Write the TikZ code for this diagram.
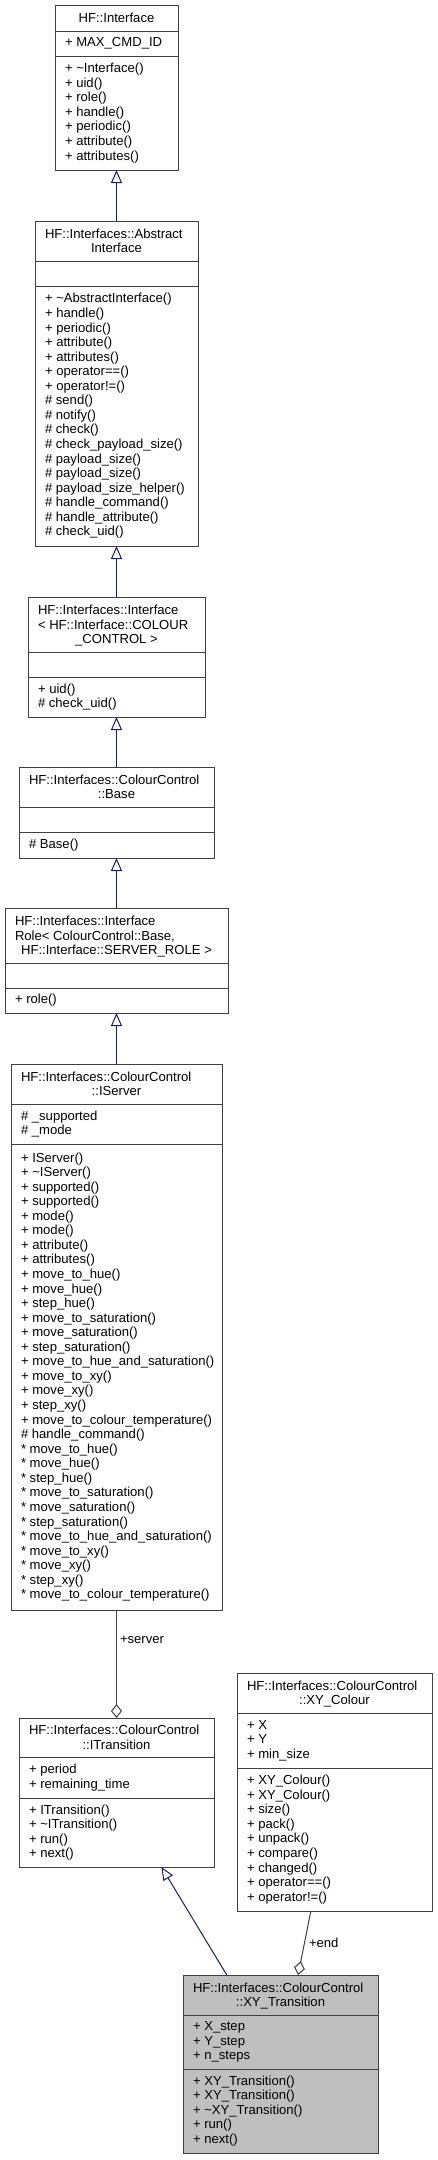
\documentclass[tikz,border=0pt]{standalone}
\usepackage{fontspec}
\setmainfont{Liberation Sans}
\usetikzlibrary{arrows.meta}
\definecolor{inhcol}{RGB}{25,25,112}
\definecolor{aggcol}{RGB}{64,64,64}
\definecolor{boxcol}{RGB}{64,64,64}
\definecolor{mainfill}{RGB}{191,191,191}
% #1 fill, #2 name, #3 x1, #4 x2, #5 top, #6 header bottom, #7 attribute bottom, #8 bottom
\newcommand\umlclass[8][white]{%
  \node[classbox, fill=#1, minimum width={(#4-#3)*1pt}, minimum height={(#8-#5)*1pt}] (#2) at ({(#3+#4)/2},{(#5+#8)/2}) {};
  \draw[sepline] (#3,#6) -- (#4,#6);
  \draw[sepline] (#3,#7) -- (#4,#7);
}
\begin{document}
\begin{tikzpicture}[x=1pt,y=-1pt,
  every node/.style={font=\fontsize{13.1}{14.56}\selectfont, inner sep=0pt, outer sep=0pt, text=black},
  classbox/.style={draw=boxcol, line width=1pt, rectangle},
  sepline/.style={draw=boxcol, line width=1pt},
  tleft/.style={anchor=base west},
  tcent/.style={anchor=base},
  members/.style={anchor=west, align=left},
  inherit/.style={draw=inhcol, line width=1pt, -{Triangle[open, length=13pt, width=11pt]}},
  aggr/.style={draw=aggcol, line width=1pt, -{Diamond[open, length=14pt, width=11pt]}},
  elabel/.style={anchor=west}
]
\useasboundingbox (0,0) rectangle (438,2160);

% ---------- B1 HF::Interface
\umlclass{b1}{55}{178}{5}{31}{56}{170}
\node[tcent] (b1t) at (116.5,22.6) {HF::Interface};
\node[members] (b1a) at (65,43.5) {+ MAX\_CMD\_ID};
\node[members] (b1m) at (65,113) {+ \textasciitilde Interface()\\+ uid()\\+ role()\\+ handle()\\+ periodic()\\+ attribute()\\+ attributes()};

% ---------- B2 AbstractInterface
\umlclass{b2}{35}{198}{221}{261}{286}{546}
\node[tleft] (b2t1) at (45,238.3) {HF::Interfaces::Abstract};
\node[tcent] (b2t2) at (116.5,252.9) {Interface};
\node[members] (b2m) at (45,416) {+ \textasciitilde AbstractInterface()\\+ handle()\\+ periodic()\\+ attribute()\\+ attributes()\\+ operator==()\\+ operator!=()\\\# send()\\\# notify()\\\# check()\\\# check\_payload\_size()\\\# payload\_size()\\\# payload\_size()\\\# payload\_size\_helper()\\\# handle\_command()\\\# handle\_attribute()\\\# check\_uid()};

% ---------- B3 Interface<COLOUR_CONTROL>
\umlclass{b3}{28}{205}{597}{652}{677}{717}
\node[tleft] (b3t1) at (38,614.5) {HF::Interfaces::Interface};
\node[tleft] (b3t2) at (38,629.1) {< HF::Interface::COLOUR};
\node[tcent] (b3t3) at (116.5,643.7) {\_CONTROL >};
\node[members] (b3m) at (38,697) {+ uid()\\\# check\_uid()};

% ---------- B4 Base
\umlclass{b4}{19}{214}{767}{807}{832}{858}
\node[tleft] (b4t1) at (29,784.3) {HF::Interfaces::ColourControl};
\node[tcent] (b4t2) at (116.5,798.9) {::Base};
\node[members] (b4m) at (29,845) {\# Base()};

% ---------- B5 InterfaceRole
\umlclass{b5}{5}{228}{908}{963}{988}{1013}
\node[tleft] (b5t1) at (15,925.5) {HF::Interfaces::Interface};
\node[tleft] (b5t2) at (15,940.1) {Role< ColourControl::Base,};
\node[tcent] (b5t3) at (116.5,954.7) {HF::Interface::SERVER\_ROLE >};
\node[members] (b5m) at (15,1000.5) {+ role()};

% ---------- B6 IServer
\umlclass{b6}{11}{222}{1064}{1104}{1144}{1610}
\node[tleft] (b6t1) at (21,1081.3) {HF::Interfaces::ColourControl};
\node[tcent] (b6t2) at (116.5,1095.9) {::IServer};
\node[members] (b6a) at (21,1124) {\# \_supported\\\# \_mode};
\node[members] (b6m) at (21,1377) {+ IServer()\\+ \textasciitilde IServer()\\+ supported()\\+ supported()\\+ mode()\\+ mode()\\+ attribute()\\+ attributes()\\+ move\_to\_hue()\\+ move\_hue()\\+ step\_hue()\\+ move\_to\_saturation()\\+ move\_saturation()\\+ step\_saturation()\\+ move\_to\_hue\_and\_saturation()\\+ move\_to\_xy()\\+ move\_xy()\\+ step\_xy()\\+ move\_to\_colour\_temperature()\\\# handle\_command()\\* move\_to\_hue()\\* move\_hue()\\* step\_hue()\\* move\_to\_saturation()\\* move\_saturation()\\* step\_saturation()\\* move\_to\_hue\_and\_saturation()\\* move\_to\_xy()\\* move\_xy()\\* step\_xy()\\* move\_to\_colour\_temperature()};

% ---------- B7 ITransition
\umlclass{b7}{19}{214}{1718}{1757}{1798}{1867}
\node[tleft] (b7t1) at (29,1734.8) {HF::Interfaces::ColourControl};
\node[tcent] (b7t2) at (116.5,1749.4) {::ITransition};
\node[members] (b7a) at (29,1777.5) {+ period\\+ remaining\_time};
\node[members] (b7m) at (29,1832.5) {+ ITransition()\\+ \textasciitilde ITransition()\\+ run()\\+ next()};

% ---------- B8 XY_Colour
\umlclass{b8}{237}{432}{1673}{1713}{1768}{1911}
\node[tleft] (b8t1) at (247,1690.3) {HF::Interfaces::ColourControl};
\node[tcent] (b8t2) at (334.5,1704.9) {::XY\_Colour};
\node[members] (b8a) at (247,1740.5) {+ X\\+ Y\\+ min\_size};
\node[members] (b8m) at (247,1839.5) {+ XY\_Colour()\\+ XY\_Colour()\\+ size()\\+ pack()\\+ unpack()\\+ compare()\\+ changed()\\+ operator==()\\+ operator!=()};

% ---------- B9 XY_Transition
\umlclass[mainfill]{b9}{183}{378}{1975}{2015}{2069}{2153}
\node[tleft] (b9t1) at (193,1992.3) {HF::Interfaces::ColourControl};
\node[tcent] (b9t2) at (280.5,2006.9) {::XY\_Transition};
\node[members] (b9a) at (193,2042) {+ X\_step\\+ Y\_step\\+ n\_steps};
\node[members] (b9m) at (193,2111) {+ XY\_Transition()\\+ XY\_Transition()\\+ \textasciitilde XY\_Transition()\\+ run()\\+ next()};

% ---------- connectors
\draw[inherit] (b2) -- (b1);
\draw[inherit] (b3) -- (b2);
\draw[inherit] (b4) -- (b3);
\draw[inherit] (b5) -- (b4);
\draw[inherit] (b6) -- (b5);
\draw[inherit] (b9) -- (b7);
\draw[aggr] (b6) -- (b7);
\draw[aggr] (b8) -- (b9);
\node[elabel] (lserver) at (120,1640) {+server};
\node[elabel] (lend) at (309,1943) {+end};
\end{tikzpicture}
\end{document}
